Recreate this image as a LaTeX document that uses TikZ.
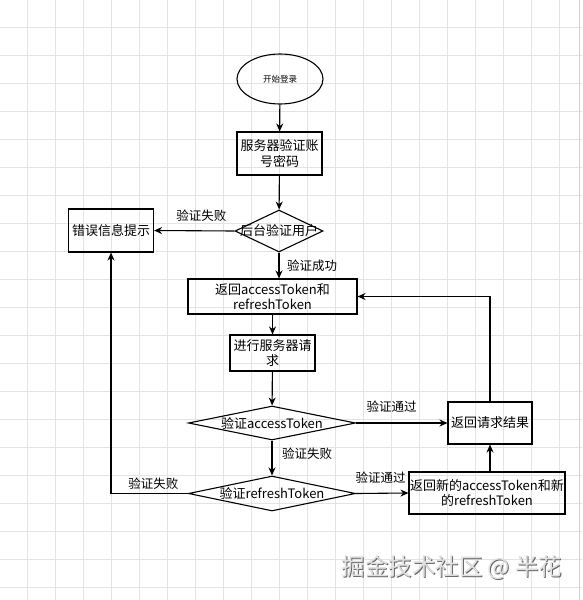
\documentclass[tikz,border=0pt]{standalone}
\usepackage{fontspec}
\setmainfont{Noto Sans CJK SC}
\usetikzlibrary{shapes.geometric,arrows.meta}
\begin{document}
\begin{tikzpicture}[x=1pt,y=-1pt,
  every node/.style={font=\fontsize{12.5}{15}\selectfont},
  gridline/.style={draw=black!11, line width=0.8pt},
  box/.style={draw, line width=1.1pt, inner sep=0pt, align=center, font=\fontsize{13}{15.5}\selectfont},
  dia/.style={draw, diamond, line width=1.1pt, inner sep=0pt},
  dtext/.style={font=\fontsize{13}{15}\selectfont, inner sep=0pt},
  flow/.style={line width=1.1pt, -{Stealth[length=8pt,width=7pt]}},
  lab/.style={font=\fontsize{12.5}{15}\selectfont, inner sep=0pt},
  wmark/.style={font=\fontsize{23.5}{26}\selectfont, inner sep=0pt},
]
\useasboundingbox (0,0) rectangle (582,600);
\fill[white] (0,0) rectangle (582,600);
\foreach \g in {27,55,...,587} {
  \draw[gridline] (\g,0) -- (\g,600);
  \draw[gridline] (0,\g) -- (582,\g);
}
\draw[draw=black!18, line width=0.8pt] (579,0) -- (579,600);

% nodes
\node[draw, ellipse, line width=1.1pt, minimum width=86pt, minimum height=50pt, inner sep=0pt, font=\fontsize{8.5}{10}\selectfont] (start) at (280,79) {开始登录};
\node[box, minimum width=85pt, minimum height=43pt] (auth) at (279.5,153.5) {服务器验证账\\号密码};
\node[dia, minimum width=88pt, minimum height=42pt, label={[dtext]center:后台验证用户}] (check) at (279,231) {};
\node[box, minimum width=85pt, minimum height=43pt] (err) at (111,230.5) {错误信息提示};
\node[box, minimum width=169pt, minimum height=35pt] (ret) at (272.5,296.5) {返回accessToken和\\refreshToken};
\node[box, minimum width=85pt, minimum height=36pt] (req) at (272.5,353) {进行服务器请\\求};
\node[dia, minimum width=167pt, minimum height=34pt, label={[dtext]center:验证accessToken}] (acc) at (272,423) {};
\node[box, minimum width=84pt, minimum height=42pt] (res) at (490,423) {返回请求结果};
\node[dia, minimum width=167pt, minimum height=35pt, label={[dtext]center:验证refreshToken}] (ref) at (272,493.5) {};
\node[box, minimum width=156pt, minimum height=42pt] (new) at (487,493) {返回新的accessToken和新\\的refreshToken};

% connectors
\draw[flow] (start) -- (auth);
\draw[flow] (auth) -- (check);
\draw[flow] (check.west) -- node[lab,pos=0.41,yshift=15pt]{验证失败} (err.east);
\draw[flow] (check.south) -- node[lab,pos=0.5,xshift=33pt]{验证成功} (check.south |- ret.north);
\draw[flow] (ret.south) -- (req.north);
\draw[flow] (req) -- (acc);
\draw[flow] (acc.east) -- node[lab,pos=0.39,yshift=16pt]{验证通过} (res.west);
\draw[flow] (res.north) |- (ret.east);
\draw[flow] (acc.south) -- node[lab,pos=0.5,xshift=35pt,yshift=4pt]{验证失败} (ref.north);
\draw[flow] (ref.east) -- node[lab,pos=0.47,yshift=16pt]{验证通过} (new.west);
\draw[flow] (res.south |- new.north) -- (res.south);
\draw[flow] (ref.west) -| node[lab,pos=0.225,yshift=10pt]{验证失败} (err.south);

% watermark
\node[wmark, text=black!60] (wmshadow) at (453,569) {掘金技术社区 @ 半花};
\node[wmark, text=black!12] (wm) at (452,568) {掘金技术社区 @ 半花};
\end{tikzpicture}
\end{document}
